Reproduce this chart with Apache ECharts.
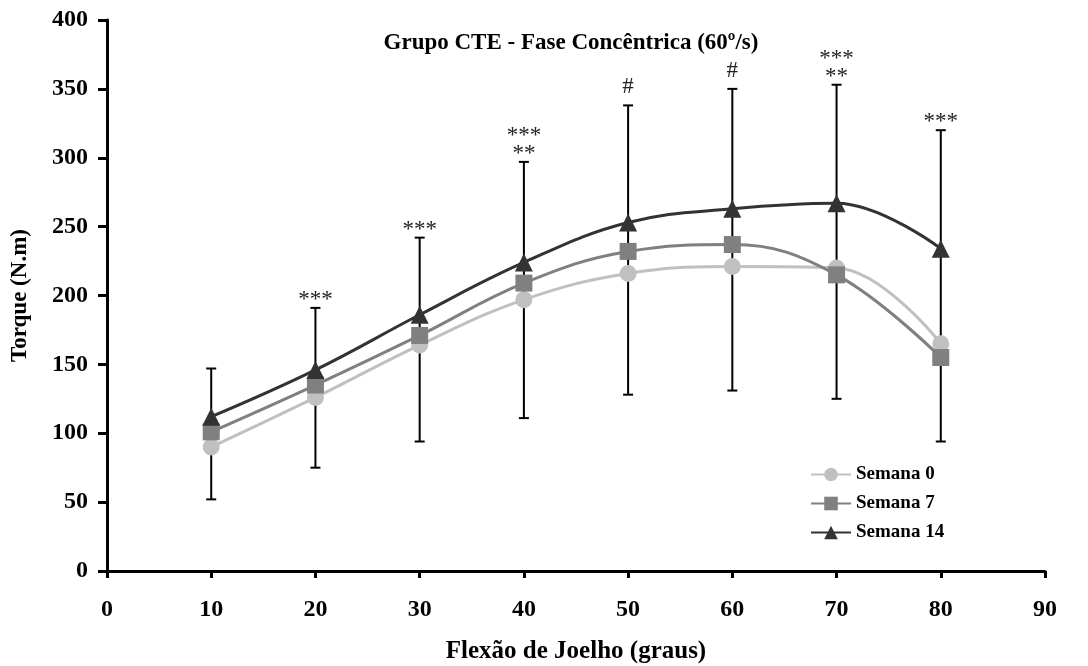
<!DOCTYPE html>
<html>
<head>
    <meta charset="utf-8">
    <title>Grupo CTE - Fase Concêntrica</title>
    <script src="https://cdn.jsdelivr.net/npm/echarts@6/dist/echarts.min.js"></script>
    <style>
        body { margin: 0; background: #fff; }
        #main { width: 1088px; height: 666px; }
    </style>
</head>
<body>
<div id="main"></div>
<script type="text/javascript">
    // dados
    var angulos = [10, 20, 30, 40, 50, 60, 70, 80];
    var semana0 = [90, 126, 164, 197, 216, 221, 220, 165];
    var semana7 = [101, 135, 171, 209, 232, 237, 215, 155];
    var semana14 = [112, 146, 186, 224, 253, 263, 267, 234];
    var erroMin = [52, 75, 94, 111, 128, 131, 125, 94];
    var erroMax = [147, 191, 242, 297, 338, 350, 353, 320];
    var marcas = ['', '***', '***', '***\n**', '#', '#', '***\n**', '***'];

    var serif = '"Liberation Serif", "Times New Roman", serif';

    function pares(ys) {
        return angulos.map(function (x, i) { return [x, ys[i]]; });
    }

    var barras = angulos.map(function (x, i) { return [x, erroMin[i], erroMax[i]]; });

    var myChart = echarts.init(document.getElementById('main'));

    var option = {
        animation: false,
        title: {
            text: 'Grupo CTE - Fase Concêntrica (60º/s)',
            left: 566,
            textAlign: 'center',
            top: 27,
            textStyle: { fontFamily: serif, fontSize: 23, fontWeight: 'bold', color: '#000' }
        },
        legend: {
            orient: 'vertical',
            left: 805,
            top: 460,
            itemWidth: 40,
            itemHeight: 17,
            itemGap: 10,
            data: ['Semana 0', 'Semana 7', 'Semana 14'],
            textStyle: { fontFamily: serif, fontSize: 19, fontWeight: 'bold', color: '#000' }
        },
        grid: { left: 107, right: 43, top: 20, bottom: 95, outerBoundsMode: 'none' },
        xAxis: {
            type: 'value',
            min: 0, max: 90, interval: 10,
            name: 'Flexão de Joelho (graus)',
            nameLocation: 'middle',
            nameGap: 68,
            nameTextStyle: { fontFamily: serif, fontSize: 25, fontWeight: 'bold', color: '#000' },
            axisLine: { lineStyle: { color: '#000', width: 3 } },
            axisTick: { length: 7, lineStyle: { color: '#000', width: 3 } },
            axisLabel: { fontFamily: serif, fontSize: 24, fontWeight: 'bold', color: '#000', margin: 27 },
            splitLine: { show: false }
        },
        yAxis: {
            type: 'value',
            min: 0, max: 400, interval: 50,
            name: 'Torque (N.m)',
            nameLocation: 'middle',
            nameGap: 75,
            nameTextStyle: { fontFamily: serif, fontSize: 23, fontWeight: 'bold', color: '#000' },
            axisLine: { show: true, lineStyle: { color: '#000', width: 3 } },
            axisTick: { show: true, length: 9, lineStyle: { color: '#000', width: 3 } },
            axisLabel: { fontFamily: serif, fontSize: 24, fontWeight: 'bold', color: '#000', margin: 19 },
            splitLine: { show: false }
        },
        series: [
            {
                type: 'custom',
                name: 'erro',
                z: 1,
                data: barras,
                renderItem: function (params, api) {
                    var x = api.value(0);
                    var pTop = api.coord([x, api.value(2)]);
                    var pBot = api.coord([x, api.value(1)]);
                    var h = 5;
                    var traco = { stroke: '#000', lineWidth: 2 };
                    var filhos = [
                        { type: 'line', shape: { x1: pTop[0], y1: pTop[1], x2: pBot[0], y2: pBot[1] }, style: traco },
                        { type: 'line', shape: { x1: pTop[0] - h, y1: pTop[1], x2: pTop[0] + h, y2: pTop[1] }, style: traco },
                        { type: 'line', shape: { x1: pBot[0] - h, y1: pBot[1], x2: pBot[0] + h, y2: pBot[1] }, style: traco }
                    ];
                    var m = marcas[params.dataIndex];
                    if (m) {
                        filhos.push({
                            type: 'text',
                            x: pTop[0],
                            y: pTop[1] + (m === '#' ? -9 : 1),
                            style: {
                                text: m,
                                font: '23px ' + serif,
                                fill: '#222',
                                align: 'center',
                                verticalAlign: 'bottom',
                                lineHeight: 18
                            }
                        });
                    }
                    return { type: 'group', children: filhos };
                }
            },
            {
                name: 'Semana 0',
                type: 'line',
                z: 2,
                smooth: 0.4,
                data: pares(semana0),
                symbol: 'circle',
                symbolSize: 17,
                lineStyle: { color: '#c0c0c0', width: 3 },
                itemStyle: { color: '#c0c0c0' }
            },
            {
                name: 'Semana 7',
                type: 'line',
                z: 3,
                smooth: 0.4,
                data: pares(semana7),
                symbol: 'rect',
                symbolSize: 17,
                lineStyle: { color: '#808080', width: 3 },
                itemStyle: { color: '#808080' }
            },
            {
                name: 'Semana 14',
                type: 'line',
                z: 4,
                smooth: 0.4,
                data: pares(semana14),
                symbol: 'triangle',
                symbolSize: 18,
                lineStyle: { color: '#333333', width: 3 },
                itemStyle: { color: '#333333' }
            }
        ]
    };

    myChart.setOption(option);
</script>
</body>
</html>
